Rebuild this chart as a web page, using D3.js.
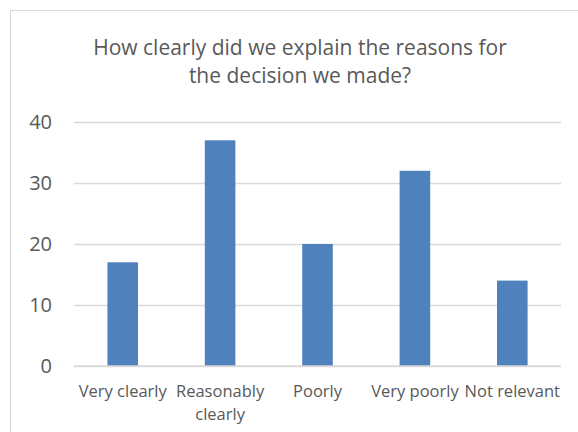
<!DOCTYPE html>
<html>
<head>
<meta charset="utf-8">
<script src="https://cdn.jsdelivr.net/npm/d3@7"></script>
<style>
  html, body { margin: 0; padding: 0; background: #fff; }
  svg { display: block; }
  text { font-family: "Open Sans", "Noto Sans", sans-serif; fill: #595959; }
</style>
</head>
<body>
<svg id="chart" width="578" height="432"></svg>
<script>
const titleLines = ["How clearly did we explain the reasons for", "the decision we made?"];
const categories = ["Very clearly", "Reasonably clearly", "Poorly", "Very poorly", "Not relevant"];
const values = [17, 37, 20, 32, 14];
const yTicks = [0, 10, 20, 30, 40];

const svg = d3.select("#chart");
const plot = { left: 74, right: 561, top: 122, bottom: 366 };

// chart area frame
svg.append("rect")
  .attr("x", 10.5).attr("y", 10.5)
  .attr("width", 700).attr("height", 700)
  .attr("fill", "#fff").attr("stroke", "#D9D9D9").attr("stroke-width", 1);

const x = d3.scaleBand().domain(categories).range([plot.left, plot.right]).paddingInner(0.686).paddingOuter(0.343);
const y = d3.scaleLinear().domain([0, 40]).range([plot.bottom, plot.top]);

// gridlines + tick labels
const yAxis = d3.axisLeft(y).tickValues(yTicks).tickSize(-(plot.right - plot.left)).tickPadding(22).tickFormat(d3.format("d"));
const gy = svg.append("g").attr("transform", `translate(${plot.left},0)`).call(yAxis);
gy.select(".domain").remove();
gy.selectAll(".tick line").attr("stroke", "#D9D9D9").attr("stroke-width", 1.3);
gy.selectAll(".tick text").attr("font-size", 20).attr("fill", "#595959")
  .attr("font-family", "'Open Sans', sans-serif");

// bars
svg.append("g").selectAll("rect").data(values).join("rect")
  .attr("x", (d, i) => x(categories[i]))
  .attr("width", x.bandwidth())
  .attr("y", d => y(d))
  .attr("height", d => y(0) - y(d))
  .attr("fill", "#4F81BD");

// baseline on top of bars
svg.append("line").attr("x1", plot.left).attr("x2", plot.right)
  .attr("y1", y(0)).attr("y2", y(0)).attr("stroke", "#D9D9D9").attr("stroke-width", 1.3);

// category labels (wrapped)
const xAxis = d3.axisBottom(x).tickSize(0).tickPadding(0);
const gx = svg.append("g").attr("transform", `translate(0,${plot.bottom})`).call(xAxis);
gx.select(".domain").remove();
gx.selectAll(".tick text").each(function(d) {
  const t = d3.select(this);
  t.text(null).attr("font-size", 16.5).attr("fill", "#595959").attr("y", 0).attr("dy", null)
    .attr("font-family", "'Open Sans', sans-serif");
  const words = d.split(" ");
  let lines = [], cur = [];
  const tmp = t.append("tspan");
  for (const w of words) {
    const test = cur.concat([w]).join(" ");
    tmp.text(test);
    if (tmp.node().getComputedTextLength() > 112 && cur.length) {
      lines.push(cur.join(" "));
      cur = [w];
    } else cur.push(w);
  }
  lines.push(cur.join(" "));
  tmp.remove();
  lines.forEach((ln, i) => {
    t.append("tspan").attr("x", 0).attr("y", 31 + i * 23).text(ln);
  });
});

// title
svg.append("text").attr("text-anchor", "middle").attr("font-size", 21)
  .selectAll("tspan").data(titleLines).join("tspan")
  .attr("x", 300).attr("y", (d, i) => 55 + i * 28).text(d => d);
</script>
</body>
</html>
